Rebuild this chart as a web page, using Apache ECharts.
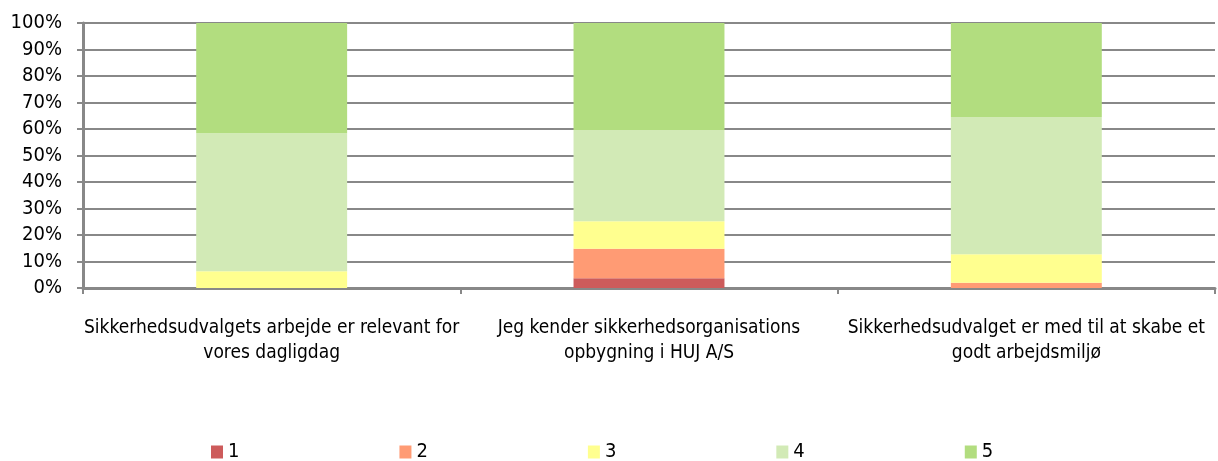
<!DOCTYPE html>
<html>
<head>
<meta charset="utf-8">
<script src="https://cdn.jsdelivr.net/npm/echarts@6/dist/echarts.min.js"></script>
<style>
  html, body { margin: 0; padding: 0; background: #fff; }
  #chart { width: 1218px; height: 461px; }
</style>
</head>
<body>
<div id="chart"></div>
<script>
var categories = [
	'Sikkerhedsudvalgets arbejde er relevant for\nvores dagligdag',
	'Jeg kender sikkerhedsorganisations\nopbygning i HUJ A/S',
	'Sikkerhedsudvalget er med til at skabe et\ngodt arbejdsmiljø'
];
var seriesNames = ['1', '2', '3', '4', '5'];
var values1 = [0, 3.7, 0];
var values2 = [0, 11.1, 2.0];
var values3 = [6.3, 10.4, 10.7];
var values4 = [52.1, 34.4, 51.8];
var values5 = [41.6, 40.4, 35.5];
var colors = ['#CD5B5B', '#FF9B74', '#FFFF8F', '#D2EAB6', '#B2DD7F'];

var allValues = [values1, values2, values3, values4, values5];
var font = '"Liberation Sans Narrow", "DejaVu Sans Condensed", Arial, sans-serif';

var myChart = echarts.init(document.getElementById('chart'));
var mySeries = [];
for (var i = 0; i < seriesNames.length; i++) {
	mySeries.push({
		name: seriesNames[i],
		type: 'bar',
		stack: 'total',
		barWidth: '40%',
		itemStyle: { color: colors[i] },
		data: allValues[i]
	});
}

option = {
	animation: false,
	grid: { left: 83, right: 3, top: 23, bottom: 173 },
	legend: {
		data: seriesNames,
		top: 442,
		left: 211,
		padding: 0,
		itemWidth: 12,
		itemHeight: 13,
		itemGap: 160,
		icon: 'rect',
		textStyle: { fontFamily: font, fontSize: 20, color: '#000', padding: [0, 0, 0, 0] }
	},
	xAxis: {
		type: 'category',
		data: categories,
		axisLine: { lineStyle: { color: '#888', width: 3 } },
		axisTick: { show: true, alignWithLabel: false, length: 6, lineStyle: { color: '#888', width: 2 } },
		axisLabel: { fontFamily: font, fontSize: 19, color: '#000', margin: 28, lineHeight: 25, interval: 0 }
	},
	yAxis: {
		type: 'value',
		min: 0,
		max: 100,
		interval: 10,
		axisLine: { show: true, lineStyle: { color: '#888', width: 3 } },
		axisTick: { show: true, length: 6, lineStyle: { color: '#888', width: 2 } },
		splitLine: { lineStyle: { color: '#888', width: 2 } },
		axisLabel: { fontFamily: font, fontSize: 20, color: '#000', margin: 21, formatter: '{value}%' }
	},
	series: mySeries
};
myChart.setOption(option);
</script>
</body>
</html>
